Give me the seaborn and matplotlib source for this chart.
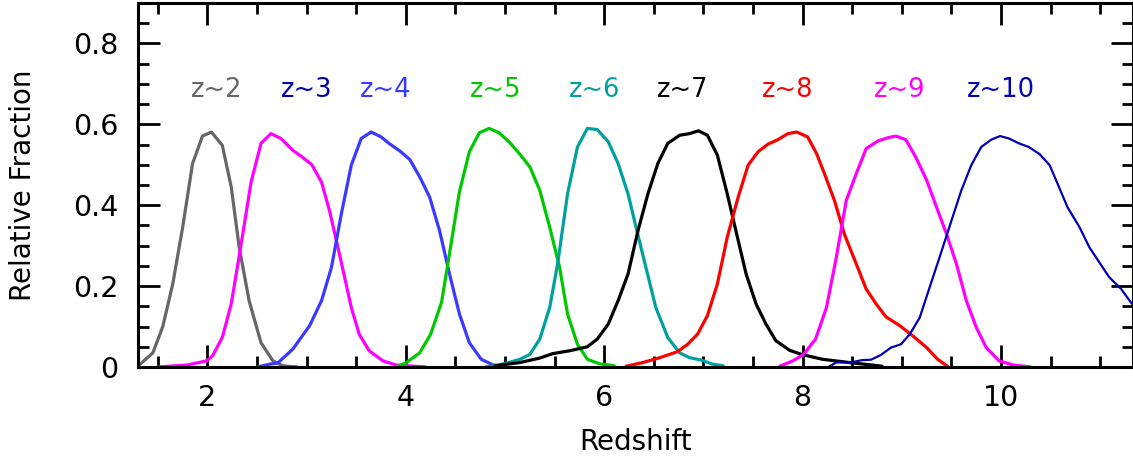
import matplotlib
matplotlib.use("Agg")
import matplotlib.pyplot as plt
from matplotlib.ticker import MultipleLocator, FuncFormatter
import seaborn as sns

# redshift selection functions
z2_x = [1.29, 1.45, 1.55, 1.65, 1.75, 1.85, 1.95, 2.04, 2.15, 2.24, 2.32, 2.42, 2.54, 2.66, 2.76, 2.9]
z2_y = [0.0, 0.035, 0.10, 0.205, 0.345, 0.503, 0.571, 0.581, 0.548, 0.445, 0.296, 0.164, 0.06, 0.015, 0.003, 0.0]

z3_x = [1.5, 1.8, 1.99, 2.05, 2.15, 2.24, 2.34, 2.44, 2.54, 2.64, 2.74, 2.86, 2.95, 3.05, 3.15, 3.23, 3.33, 3.45, 3.53, 3.63, 3.77, 3.9, 4.2]
z3_y = [0.0, 0.005, 0.015, 0.027, 0.073, 0.156, 0.304, 0.457, 0.553, 0.577, 0.565, 0.536, 0.52, 0.501, 0.457, 0.387, 0.28, 0.147, 0.081, 0.04, 0.015, 0.005, 0.0]

z4_x = [2.5, 2.63, 2.71, 2.86, 3.03, 3.15, 3.25, 3.35, 3.45, 3.55, 3.65, 3.75, 3.83, 3.94, 4.04, 4.14, 4.24, 4.34, 4.44, 4.54, 4.64, 4.76, 4.88, 4.97]
z4_y = [0.0, 0.007, 0.01, 0.044, 0.102, 0.164, 0.246, 0.379, 0.499, 0.565, 0.581, 0.569, 0.553, 0.534, 0.513, 0.47, 0.42, 0.337, 0.23, 0.131, 0.06, 0.019, 0.005, 0.002]

z5_x = [3.9, 4.0, 4.14, 4.25, 4.36, 4.44, 4.54, 4.64, 4.74, 4.84, 4.94, 5.04, 5.14, 5.25, 5.35, 5.45, 5.55, 5.63, 5.73, 5.83, 5.95, 6.1]
z5_y = [0.0, 0.01, 0.035, 0.081, 0.16, 0.28, 0.433, 0.532, 0.579, 0.59, 0.579, 0.557, 0.529, 0.495, 0.437, 0.346, 0.246, 0.131, 0.056, 0.019, 0.008, 0.003]

z6_x = [4.8, 4.94, 5.05, 5.15, 5.25, 5.35, 5.45, 5.53, 5.63, 5.73, 5.83, 5.93, 6.04, 6.14, 6.24, 6.32, 6.42, 6.52, 6.64, 6.76, 6.86, 6.98, 7.09, 7.2]
z6_y = [0.0, 0.005, 0.012, 0.019, 0.031, 0.069, 0.147, 0.255, 0.428, 0.544, 0.59, 0.587, 0.557, 0.503, 0.428, 0.346, 0.246, 0.147, 0.073, 0.035, 0.023, 0.017, 0.007, 0.003]

z7_x = [4.9, 5.15, 5.35, 5.48, 5.65, 5.83, 5.93, 6.04, 6.14, 6.24, 6.34, 6.44, 6.54, 6.64, 6.76, 6.86, 6.95, 7.04, 7.14, 7.24, 7.35, 7.43, 7.53, 7.63, 7.73, 7.87, 7.99, 8.2, 8.47, 8.8]
z7_y = [0.003, 0.011, 0.022, 0.033, 0.04, 0.05, 0.069, 0.106, 0.164, 0.23, 0.337, 0.428, 0.503, 0.553, 0.573, 0.577, 0.584, 0.573, 0.524, 0.428, 0.313, 0.23, 0.156, 0.106, 0.065, 0.041, 0.031, 0.019, 0.011, 0.002]

z8_x = [6.22, 6.39, 6.56, 6.74, 6.84, 6.94, 7.04, 7.14, 7.24, 7.35, 7.45, 7.55, 7.65, 7.75, 7.85, 7.94, 8.05, 8.14, 8.22, 8.32, 8.42, 8.54, 8.64, 8.74, 8.84, 8.98, 9.11, 9.25, 9.36, 9.46]
z8_y = [0.002, 0.011, 0.023, 0.038, 0.056, 0.081, 0.127, 0.205, 0.321, 0.42, 0.499, 0.532, 0.551, 0.562, 0.577, 0.581, 0.569, 0.528, 0.478, 0.412, 0.329, 0.255, 0.193, 0.156, 0.124, 0.102, 0.077, 0.048, 0.019, 0.002]

z9_x = [7.77, 7.9, 8.01, 8.13, 8.24, 8.34, 8.44, 8.54, 8.64, 8.76, 8.86, 8.94, 9.04, 9.14, 9.25, 9.35, 9.45, 9.55, 9.65, 9.75, 9.85, 9.98, 10.12, 10.3]
z9_y = [0.002, 0.015, 0.031, 0.069, 0.147, 0.272, 0.412, 0.478, 0.54, 0.559, 0.567, 0.571, 0.562, 0.519, 0.462, 0.395, 0.329, 0.255, 0.164, 0.098, 0.048, 0.015, 0.005, 0.0]

z10_x = [8.27, 8.34, 8.5, 8.6, 8.69, 8.79, 8.89, 8.99, 9.08, 9.18, 9.28, 9.38, 9.5, 9.6, 9.7, 9.8, 9.9, 9.99, 10.08, 10.18, 10.28, 10.39, 10.49, 10.57, 10.67, 10.79, 10.89, 10.99, 11.09, 11.21, 11.32]
z10_y = [0.002, 0.011, 0.012, 0.017, 0.018, 0.03, 0.048, 0.056, 0.081, 0.122, 0.197, 0.271, 0.362, 0.437, 0.499, 0.544, 0.562, 0.571, 0.565, 0.553, 0.544, 0.526, 0.499, 0.453, 0.395, 0.346, 0.296, 0.259, 0.222, 0.193, 0.156]

labels = ["z~2", "z~3", "z~4", "z~5", "z~6", "z~7", "z~8", "z~9", "z~10"]
label_x = [2.09, 3.0, 3.8, 4.9, 5.9, 6.79, 7.85, 8.98, 10.0]
label_y = 0.685
label_colors = ["#666666", "#0000b4", "#3a3aff", "#00c800", "#00a0a0", "black", "#ff0000", "#ff00ff", "#0000b4"]
line_colors = ["#666666", "#ff00ff", "#3a3aff", "#00c800", "#00a0a0", "black", "#ff0000", "#ff00ff", "#0000b4"]

curves = [(z2_x, z2_y), (z3_x, z3_y), (z4_x, z4_y), (z5_x, z5_y), (z6_x, z6_y),
          (z7_x, z7_y), (z8_x, z8_y), (z9_x, z9_y), (z10_x, z10_y)]

sns.set_style("ticks")
plt.rcParams['font.family'] = ['DejaVu Sans']
plt.rcParams['text.color'] = 'black'
plt.rcParams['axes.labelcolor'] = 'black'

fig = plt.figure(figsize=(11.33, 4.65), dpi=100)
ax = fig.add_axes([0.1218, 0.2108, 0.8782, 0.7827])

for i, (xs, ys) in enumerate(curves):
    lw = 1.6 if i == len(curves) - 1 else 2.3
    sns.lineplot(x=xs, y=ys, color=line_colors[i], lw=lw, sort=False, estimator=None, ax=ax)
    ax.text(label_x[i], label_y, labels[i], color=label_colors[i], fontsize=18.5,
            ha="center", va="center")

ax.set_xlim(1.3, 11.33)
ax.set_ylim(0, 0.9)
ax.xaxis.set_major_locator(MultipleLocator(2))
ax.xaxis.set_minor_locator(MultipleLocator(0.5))
ax.yaxis.set_major_locator(MultipleLocator(0.2))
ax.yaxis.set_minor_locator(MultipleLocator(0.05))
ax.yaxis.set_major_formatter(FuncFormatter(lambda v, p: "0" if abs(v) < 1e-9 else f"{v:.1f}"))

ax.tick_params(which="both", direction="in", top=True, right=True, width=2, colors="black")
ax.tick_params(which="major", length=16, labelsize=20.5)
ax.tick_params(axis="y", which="major", pad=14)
ax.tick_params(axis="x", which="major", pad=12)
ax.tick_params(which="minor", length=8)
for s in ax.spines.values():
    s.set_linewidth(2.2)
    s.set_color("black")

ax.set_xlabel("Redshift", fontsize=20, labelpad=12)
ax.set_ylabel("Relative Fraction", fontsize=20, labelpad=26)

fig.savefig("out.png", dpi=100)
